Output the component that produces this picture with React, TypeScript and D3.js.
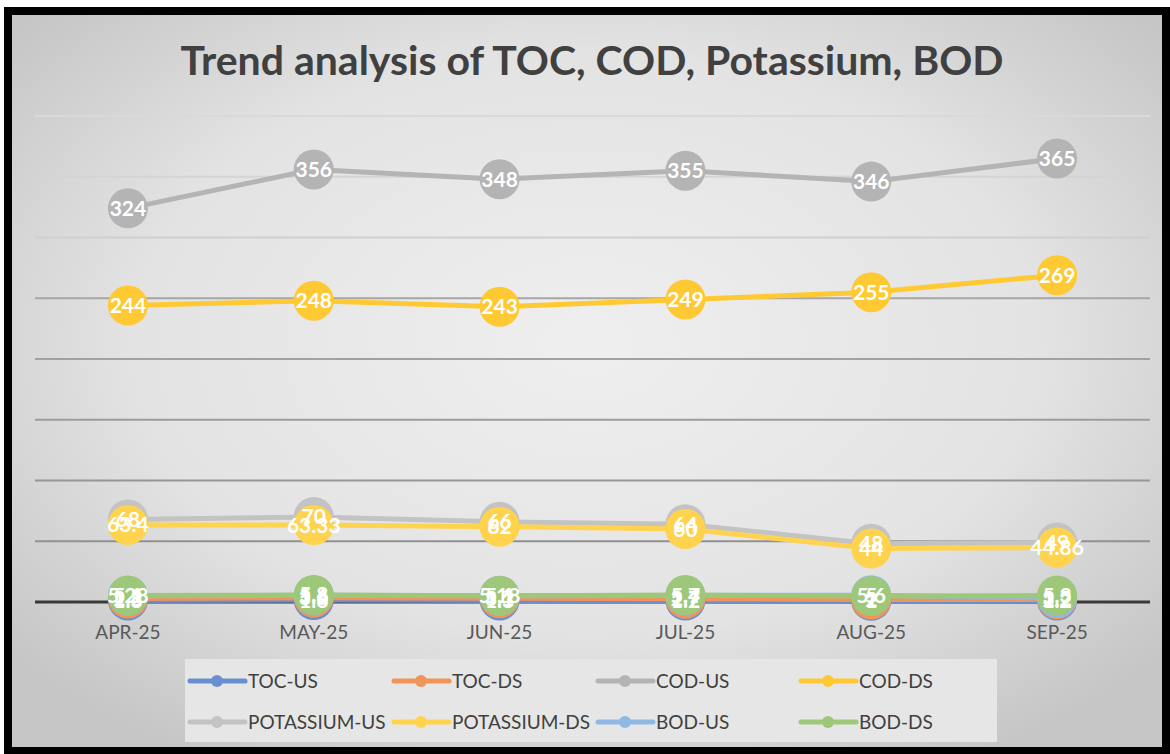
import React from "react";
import * as d3 from "d3";

const categories = ["APR-25", "MAY-25", "JUN-25", "JUL-25", "AUG-25", "SEP-25"];
const seriesNames = ["TOC-US", "TOC-DS", "COD-US", "COD-DS", "POTASSIUM-US", "POTASSIUM-DS", "BOD-US", "BOD-DS"];
const tocUS = [1.3, 1.6, 1.3, 1.2, 1.0, 1.2];
const tocDS = [2.8, 3.6, 3.1, 2.7, 2.0, 2.2];
const codUS = [324, 356, 348, 355, 346, 365];
const codDS = [244, 248, 243, 249, 255, 269];
const potUS = [68, 70, 66, 64, 48, 49];
const potDS = [63.4, 63.33, 62, 60, 44, 44.86];
const bodUS = [5.1, 5.6, 5.1, 5.4, 5.6, 3.2];
const bodDS = [5.28, 5.8, 5.18, 5.7, 5.0, 5.3];
const yTicks = [0, 50, 100, 150, 200, 250, 300, 350, 400];
const seriesColors = ["#6a8fd0", "#f0955a", "#b4b4b4", "#ffc933", "#c3c3c3", "#ffd34d", "#8fb9e3", "#9dc87a"];

const seriesValues = [tocUS, tocDS, codUS, codDS, potUS, potDS, bodUS, bodDS];

const W = 1170;
const H = 754;
const FONT = "Lato, 'Open Sans', sans-serif";

export default function App() {
  const x = d3.scaleBand<string>().domain(categories).range([35, 1150]);
  const y = d3.scaleLinear().domain([0, 400]).range([602, 116]);
  const cx = (c: string) => (x(c) as number) + x.bandwidth() / 2;
  const line = d3
    .line<number>()
    .x((_, i) => cx(categories[i]))
    .y((d) => y(d));
  const gridColor = d3.scaleLinear<string>().domain([0, 250, 300, 400]).range(["#8c8c8c", "#a6a6a6", "#cfcfcf", "#d9d9d9"]);

  const legendCols = [190, 394, 598, 801];
  const legendRows = [681, 722];

  return (
    <svg width={W} height={H} style={{ position: "absolute", left: 0, top: 0 }} xmlns="http://www.w3.org/2000/svg">
      <defs>
        <radialGradient id="bg" cx="50%" cy="45%" r="65%">
          <stop offset="0%" stopColor="#efefef" />
          <stop offset="60%" stopColor="#e3e3e3" />
          <stop offset="100%" stopColor="#c6c6c6" />
        </radialGradient>
      </defs>
      <rect x={0} y={0} width={W} height={H} fill="#ffffff" />
      <rect x={8} y={11} width={1158} height={740} fill="url(#bg)" />
      <text x={592} y={75} textAnchor="middle" fontFamily={FONT} fontWeight={700} fontSize={41} fill="#404040">
        Trend analysis of TOC, COD, Potassium, BOD
      </text>
      {yTicks.slice(1).map((t) => (
        <line key={t} x1={35} x2={1150} y1={y(t)} y2={y(t)} stroke={gridColor(t)} strokeWidth={2} />
      ))}
      <line x1={35} x2={1150} y1={y(0)} y2={y(0)} stroke="#3a3a3a" strokeWidth={3} />
      {categories.map((c) => (
        <text key={c} x={cx(c)} y={639} textAnchor="middle" fontFamily={FONT} fontSize={19} fill="#595959">
          {c}
        </text>
      ))}
      {seriesValues.map((vals, s) => (
        <g key={seriesNames[s]}>
          <path d={line(vals) || ""} fill="none" stroke={seriesColors[s]} strokeWidth={5} strokeLinejoin="round" />
          {vals.map((v, i) => (
            <circle key={i} cx={cx(categories[i])} cy={y(v)} r={20} fill={seriesColors[s]} />
          ))}
        </g>
      ))}
      {seriesValues.map((vals, s) => (
        <g key={"l" + seriesNames[s]}>
          {vals.map((v, i) => (
            <text
              key={i}
              x={cx(categories[i])}
              y={y(v) + 7.5}
              textAnchor="middle"
              fontFamily={FONT}
              fontWeight={700}
              fontSize={21}
              fill="#ffffff"
            >
              {String(v)}
            </text>
          ))}
        </g>
      ))}
      <rect x={185} y={659} width={812} height={83} fill="#e6e6e6" />
      {seriesNames.map((n, s) => {
        const lx = legendCols[s % 4];
        const ly = legendRows[Math.floor(s / 4)];
        return (
          <g key={"lg" + n}>
            <line x1={lx} x2={lx + 55} y1={ly} y2={ly} stroke={seriesColors[s]} strokeWidth={5} strokeLinecap="round" />
            <circle cx={lx + 27} cy={ly} r={6} fill={seriesColors[s]} />
            <text x={lx + 58} y={ly + 7} fontFamily={FONT} fontSize={19} fill="#404040">
              {n}
            </text>
          </g>
        );
      })}
      <rect x={8} y={11} width={1158} height={740} fill="none" stroke="#000000" strokeWidth={8} />
    </svg>
  );
}
